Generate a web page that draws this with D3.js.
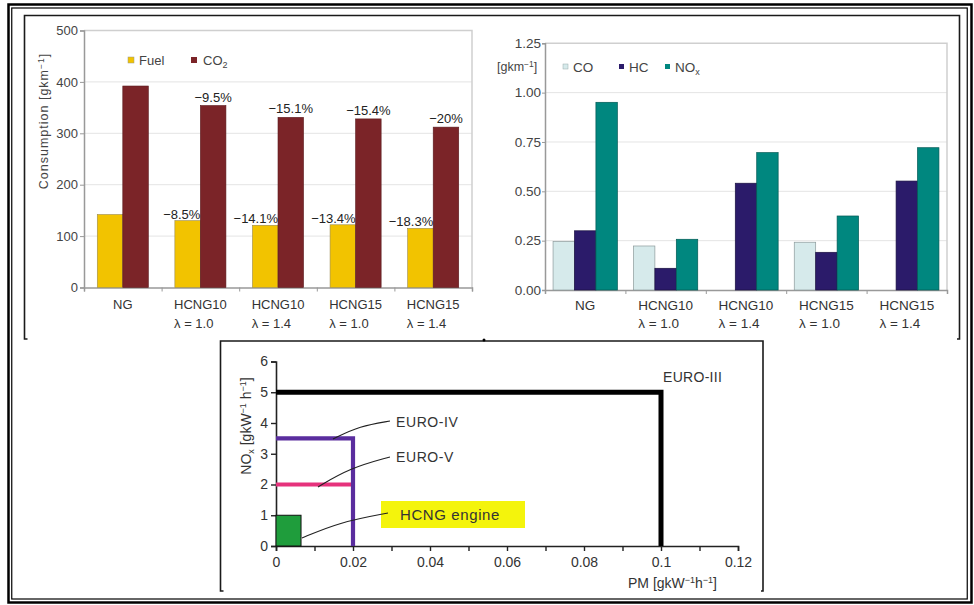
<!DOCTYPE html>
<html><head><meta charset="utf-8">
<script src="https://cdn.jsdelivr.net/npm/d3@7"></script>
<style>
body{margin:0;background:#fff}
svg{display:block}
text{font-family:"Liberation Sans",Arial,Helvetica,sans-serif}
</style>
</head><body>
<svg id="c" width="974" height="605"></svg>
<script>
// ---------- data ----------
const groupNames   = ["NG","HCNG10","HCNG10","HCNG15","HCNG15"];
const lambdaNames  = ["","λ = 1.0","λ = 1.4","λ = 1.0","λ = 1.4"];
const fuelValues   = [142,130,121,122,115];
const co2Values    = [392,354,331,328,312];
const fuelPct      = ["","−8.5%","−14.1%","−13.4%","−18.3%"];
const co2Pct       = ["","−9.5%","−15.1%","−15.4%","−20%"];
const consTicks    = [0,100,200,300,400,500];

const coValues     = [0.245,0.223,null,0.242,null];
const hcValues     = [0.300,0.110,0.541,0.191,0.552];
const noxValues    = [0.951,0.257,0.696,0.375,0.721];
const emisTicks    = [0,0.25,0.5,0.75,1.0,1.25];

const euroNames    = ["EURO-III","EURO-IV","EURO-V"];
const euroPM       = [0.1,0.02,0.02];
const euroNOx      = [5,3.5,2];
const hcngPM       = 0.0065;
const hcngNOx      = 1;
const pmTicks      = [0,0.01,0.02,0.03,0.04,0.05,0.06,0.07,0.08,0.09,0.1,0.11,0.12];
const pmTickLabels = ["0","","0.02","","0.04","","0.06","","0.08","","0.1","","0.12"];
const noxTicks     = [0,1,2,3,4,5,6];

// ---------- frames ----------
const svg = d3.select("#c");
svg.append("rect").attr("x",8.5).attr("y",4.5).attr("width",963).attr("height",598)
  .attr("fill","none").attr("stroke","#000").attr("stroke-width",2.5);
svg.append("rect").attr("x",11.75).attr("y",8).attr("width",955.5).attr("height",591)
  .attr("fill","none").attr("stroke","#000").attr("stroke-width",1.2);
svg.append("path").attr("d","M27.5,339 H24.5 V15.5 H959.5 V339 H957")
  .attr("fill","none").attr("stroke","#1a1a1a").attr("stroke-width",1.6);
svg.append("path").attr("d","M223.5,591 H220.5 V341 H763 V591 H761")
  .attr("fill","none").attr("stroke","#1a1a1a").attr("stroke-width",1.6);
svg.append("circle").attr("cx",484).attr("cy",340).attr("r",1.5).attr("fill","#000");

function supText(sel, parts){
  parts.forEach(([t,s],i)=>{
    const ts = sel.append("tspan").text(t);
    if(s){ ts.attr("font-size","0.68em").attr("dy","-0.45em"); }
    else if(i>0 && parts[i-1][1]){ ts.attr("dy","0.31em"); }
  });
}

function twoLineLabels(g, xc, y1, y2, size){
  groupNames.forEach((n,i)=>{
    const t1 = g.append("text").attr("font-size",size).attr("fill","#333").text(n);
    const w = t1.node().getComputedTextLength();
    const x = xc(i) - w/2;
    t1.attr("x",x).attr("y",y1);
    if(lambdaNames[i]) g.append("text").attr("font-size",size).attr("fill","#333")
      .attr("x",x).attr("y",y2).text(lambdaNames[i]);
  });
}

// ---------- chart 1: consumption ----------
(function(){
  const g = svg.append("g");
  const L=84, R=472, T=30.5, B=287.5;
  const x0 = d3.scaleBand().domain(d3.range(groupNames.length)).range([L,R]);
  const x1 = d3.scaleBand().domain(["fuel","co2"]).range([0,x0.bandwidth()]).paddingOuter(0.52);
  const y = d3.scaleLinear().domain([0,500]).range([B,T]);
  const xl = d3.scaleLinear().domain([0,groupNames.length]).range([L,R]);

  g.append("g").selectAll("line").data(consTicks.slice(1,-1)).join("line")
    .attr("x1",L).attr("x2",R).attr("y1",d=>y(d)).attr("y2",d=>y(d)).attr("stroke","#e4e4e4");
  g.append("path").attr("d",`M${L},${y(500)} H${R} V${B}`).attr("fill","none").attr("stroke","#cfcfcf").attr("stroke-width",1.5);

  const ax = g.append("g").attr("transform",`translate(${L},0)`)
    .call(d3.axisLeft(y).tickValues(consTicks).tickSize(4).tickPadding(2));
  ax.select(".domain").attr("stroke","#999").attr("stroke-width",1.5);
  ax.selectAll(".tick line").attr("stroke","#999");
  ax.selectAll("text").attr("font-size",13).attr("fill","#444").attr("font-family","Liberation Sans, Arial");

  const bx = g.append("g").attr("transform",`translate(0,${B})`)
    .call(d3.axisBottom(xl).tickValues(d3.range(groupNames.length+1)).tickSize(4).tickFormat(""));
  bx.select(".domain").attr("stroke","#999").attr("stroke-width",1.5);
  bx.selectAll(".tick line").attr("stroke","#999");

  const fuelC="#f2c300", co2C="#7b2428";
  g.append("g").selectAll("rect").data(fuelValues).join("rect")
    .attr("x",(d,i)=>x0(i)+x1("fuel")).attr("width",x1.bandwidth())
    .attr("y",d=>y(d)).attr("height",d=>B-y(d)).attr("fill",fuelC).attr("stroke","#9a8a50").attr("stroke-width",0.6);
  g.append("g").selectAll("rect").data(co2Values).join("rect")
    .attr("x",(d,i)=>x0(i)+x1("co2")).attr("width",x1.bandwidth())
    .attr("y",d=>y(d)).attr("height",d=>B-y(d)).attr("fill",co2C).attr("stroke","#5a1a1d").attr("stroke-width",0.6);

  g.append("g").selectAll("text").data(fuelPct).join("text")
    .attr("x",(d,i)=>x0(i)+x1("fuel")+x1.bandwidth()).attr("y",(d,i)=>y(fuelValues[i])-2)
    .attr("text-anchor","end").attr("font-size",13).attr("fill","#222").text(d=>d);
  g.append("g").selectAll("text").data(co2Pct).join("text")
    .attr("x",(d,i)=>x0(i)+x1("co2")+x1.bandwidth()/2).attr("y",(d,i)=>y(co2Values[i])-4)
    .attr("text-anchor","middle").attr("font-size",13).attr("fill","#222").text(d=>d);

  twoLineLabels(g, i=>x0(i)+x0.bandwidth()/2, 309, 328, 13);

  g.append("rect").attr("x",128).attr("y",57).attr("width",6).attr("height",6).attr("fill",fuelC).attr("stroke","#998").attr("stroke-width",0.5);
  g.append("text").attr("x",139).attr("y",65).attr("font-size",13).attr("fill","#444").text("Fuel");
  g.append("rect").attr("x",191).attr("y",57).attr("width",6).attr("height",6).attr("fill",co2C);
  const lt = g.append("text").attr("x",203).attr("y",65).attr("font-size",13).attr("fill","#444");
  lt.append("tspan").text("CO");
  lt.append("tspan").attr("font-size",9).attr("dy",3).text("2");

  const yt = g.append("text").attr("transform","translate(48,121) rotate(-90)")
    .attr("text-anchor","middle").attr("font-size",12.5).attr("fill","#444").attr("letter-spacing",1);
  supText(yt,[["Consumption [gkm",false],["−1",true],["]",false]]);
})();

// ---------- chart 2: emissions ----------
(function(){
  const g = svg.append("g");
  const L=545, R=947, T=43.3, B=290;
  const x0 = d3.scaleBand().domain(d3.range(groupNames.length)).range([L,R]);
  const x1 = d3.scaleBand().domain(["CO","HC","NOx"]).range([0,x0.bandwidth()]).paddingOuter(0.376);
  const y = d3.scaleLinear().domain([0,1.25]).range([B,T]);
  const xl = d3.scaleLinear().domain([0,groupNames.length]).range([L,R]);

  g.append("g").selectAll("line").data(emisTicks.slice(1,-1)).join("line")
    .attr("x1",L).attr("x2",R).attr("y1",d=>y(d)).attr("y2",d=>y(d)).attr("stroke","#e4e4e4");
  g.append("path").attr("d",`M${L},${y(1.25)} H${R} V${B}`).attr("fill","none").attr("stroke","#cfcfcf").attr("stroke-width",1.5);

  const ax = g.append("g").attr("transform",`translate(${L},0)`)
    .call(d3.axisLeft(y).tickValues(emisTicks).tickSize(3).tickPadding(1).tickFormat(d3.format(".2f")));
  ax.select(".domain").attr("stroke","#999").attr("stroke-width",1.5);
  ax.selectAll(".tick line").attr("stroke","#999");
  ax.selectAll("text").attr("font-size",13.5).attr("fill","#444").attr("font-family","Liberation Sans, Arial");

  const bx = g.append("g").attr("transform",`translate(0,${B})`)
    .call(d3.axisBottom(xl).tickValues(d3.range(groupNames.length+1)).tickSize(4).tickFormat(""));
  bx.select(".domain").attr("stroke","#999").attr("stroke-width",1.5);
  bx.selectAll(".tick line").attr("stroke","#999");

  const series = [["CO",coValues,"#d6eaeb","#8c9a9b"],["HC",hcValues,"#2b1b6a","#1a1040"],["NOx",noxValues,"#00877f","#005a55"]];
  series.forEach(([k,vals,fill,stroke])=>{
    g.append("g").selectAll("rect").data(vals.map((v,i)=>({v,i})).filter(d=>d.v!=null)).join("rect")
      .attr("x",d=>x0(d.i)+x1(k)).attr("width",x1.bandwidth())
      .attr("y",d=>y(d.v)).attr("height",d=>B-y(d.v)).attr("fill",fill).attr("stroke",stroke).attr("stroke-width",0.7);
  });

  twoLineLabels(g, i=>x0(i)+x0.bandwidth()/2, 310, 328, 13.5);

  const ut = g.append("text").attr("x",497).attr("y",71).attr("font-size",12.5).attr("fill","#444");
  supText(ut,[["[gkm",false],["−1",true],["]",false]]);

  const leg = [["CO",563,"#d6eaeb"],["HC",619,"#2b1b6a"],["NO",665,"#00877f"]];
  leg.forEach(([t,x,c])=>{
    g.append("rect").attr("x",x).attr("y",64).attr("width",5).attr("height",5).attr("fill",c).attr("stroke",t==="CO"?"#9aa":"none").attr("stroke-width",0.5);
    const tt = g.append("text").attr("x",x+10).attr("y",72).attr("font-size",13.5).attr("fill","#444").text(t);
    if(t==="NO") tt.append("tspan").attr("font-size",9).attr("dy",3).text("x");
  });
})();

// ---------- chart 3: limits ----------
(function(){
  const g = svg.append("g");
  const x = d3.scaleLinear().domain([0,0.12]).range([276,738]);
  const y = d3.scaleLinear().domain([0,6]).range([546,361.5]);

  const ax = g.append("g").attr("transform",`translate(${x(0)},0)`)
    .call(d3.axisLeft(y).tickValues(noxTicks).tickSize(5).tickPadding(3).tickFormat(d3.format("d")));
  const bx = g.append("g").attr("transform",`translate(0,${y(0)})`)
    .call(d3.axisBottom(x).tickValues(pmTicks).tickSize(5).tickPadding(6).tickFormat((d,i)=>pmTickLabels[i]));
  [ax,bx].forEach(a=>{
    a.select(".domain").attr("stroke","#222").attr("stroke-width",1.6);
    a.selectAll(".tick line").attr("stroke","#222").attr("stroke-width",1.4);
    a.selectAll("text").attr("font-size",14).attr("fill","#333").attr("font-family","Liberation Sans, Arial");
  });

  const cols = ["#000","#5a2d9e","#e6327c"];
  [2,1,0].forEach(i=>{
    const p = d3.path();
    p.moveTo(x(0),y(euroNOx[i]));
    p.lineTo(x(euroPM[i]),y(euroNOx[i]));
    if(i!==2) p.lineTo(x(euroPM[i]),y(0));
    g.append("path").attr("d",p.toString()).attr("fill","none").attr("stroke",cols[i])
      .attr("stroke-width",i===0?5:4.2).attr("stroke-linejoin","miter");
  });
  g.append("rect").attr("x",x(0)).attr("y",y(hcngNOx)).attr("width",x(hcngPM)-x(0)).attr("height",y(0)-y(hcngNOx))
    .attr("fill","#1f9d3c").attr("stroke","#111").attr("stroke-width",1);

  g.append("rect").attr("x",381).attr("y",501).attr("width",144).attr("height",27).attr("fill","#f4f40c");
  const lab = [[euroNames[0],663,382,14,0.3],[euroNames[1],396,427,14,0.6],[euroNames[2],396,462,14,0.6],["HCNG engine",400,520,15,0.6]];
  lab.forEach(([t,lx,ly,fs,ls])=>g.append("text").attr("x",lx).attr("y",ly).attr("font-size",fs).attr("letter-spacing",ls).attr("fill","#333").text(t));

  const leaders = [
    [[390,421],[360,426],[333,439]],
    [[390,457],[350,468],[318,487]],
    [[388,513],[340,522],[302,538]]
  ];
  leaders.forEach(pts=>g.append("path").attr("d",d3.line().curve(d3.curveBasis)(pts)).attr("fill","none").attr("stroke","#222").attr("stroke-width",1.1));

  const yt = g.append("text").attr("transform","translate(251,426) rotate(-90)")
    .attr("text-anchor","middle").attr("font-size",14).attr("fill","#333");
  yt.append("tspan").text("NO");
  yt.append("tspan").attr("font-size",9).attr("dy",3).text("x");
  yt.append("tspan").attr("dy",-3).text(" [gkW");
  yt.append("tspan").attr("font-size",9).attr("dy",-5).text("−1");
  yt.append("tspan").attr("dy",5).text(" h");
  yt.append("tspan").attr("font-size",9).attr("dy",-5).text("−1");
  yt.append("tspan").attr("dy",5).text("]");

  const xt = g.append("text").attr("x",717).attr("y",588).attr("text-anchor","end").attr("font-size",14).attr("fill","#333");
  xt.append("tspan").text("PM [gkW");
  xt.append("tspan").attr("font-size",9).attr("dy",-5).text("−1");
  xt.append("tspan").attr("dy",5).text("h");
  xt.append("tspan").attr("font-size",9).attr("dy",-5).text("−1");
  xt.append("tspan").attr("dy",5).text("]");
})();
</script>
</body></html>
